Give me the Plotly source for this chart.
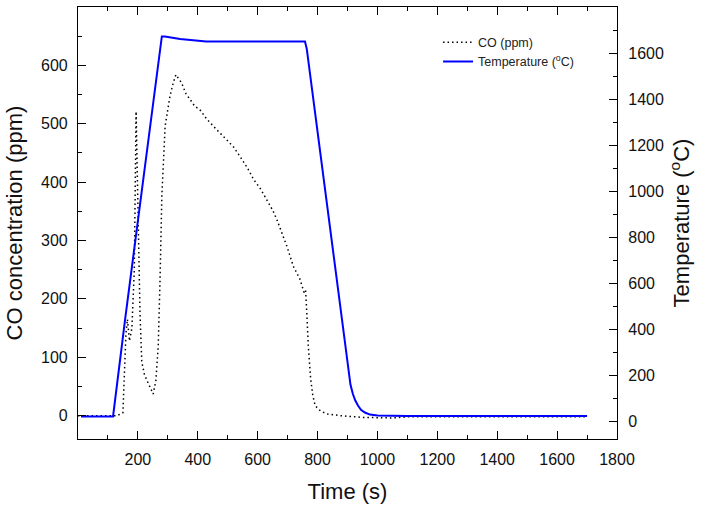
import plotly.graph_objects as go

# ---- data ----
t_temp = [10, 117, 157, 196, 240, 280, 290, 341, 428, 758, 764, 831, 875, 897,
          903, 910, 918, 926, 935, 945, 958, 975, 1000, 1100, 1300, 1500, 1700]
temp = [23, 23, 441, 831, 1265, 1672, 1672, 1661, 1650, 1650, 1618, 938, 491, 268,
        215, 160, 120, 92, 70, 52, 40, 31, 27, 25, 25, 25, 25]

t_co = [0, 50, 100, 130, 150, 155, 160, 165, 172, 180, 188, 194, 197, 201, 207, 213,
        222, 235, 251, 260, 268, 274, 280, 291, 307, 318, 327, 335, 346, 360, 374, 390,
        407, 430, 463, 496, 520, 541, 565, 586, 610, 630, 650, 664, 680, 697, 719, 741,
        755, 760, 764, 769, 777, 784, 792, 810, 831, 875, 950, 1000, 1050, 1100, 1200,
        1300, 1400, 1500, 1600, 1700]
co = [0, 0, 0, 0, 5, 60, 140, 165, 128, 150, 250, 521, 430, 319, 177, 92,
      70, 55, 37, 60, 120, 234, 376, 496, 547, 570, 584, 578, 570, 552, 541, 530,
      524, 508, 490, 473, 460, 444, 425, 405, 388, 370, 352, 336, 315, 291, 256, 234,
      211, 215, 177, 120, 63, 35, 17, 8, 3, 0, -3, -3, -4, -2, -2,
      -3, -2, -3, -2, -2]

x_ticks = [200, 400, 600, 800, 1000, 1200, 1400, 1600, 1800]
y_ticks = [0, 100, 200, 300, 400, 500, 600]
y2_ticks = [0, 200, 400, 600, 800, 1000, 1200, 1400, 1600]

FONT = "Liberation Sans, Arial, sans-serif"

fig = go.Figure()
fig.add_trace(go.Scatter(
    x=t_co, y=co, name="CO (ppm)", mode="lines",
    line=dict(color="black", width=1.5, dash="1.5px,3px"),
    yaxis="y"))
fig.add_trace(go.Scatter(
    x=t_temp, y=temp, name="Temperature (<sup>o</sup>C)", mode="lines",
    line=dict(color="#0000FF", width=2),
    yaxis="y2"))

axis_common = dict(
    showline=True, linecolor="black", linewidth=1.2,
    ticks="inside", ticklen=8, tickwidth=1.2, tickcolor="black",
    showgrid=False, zeroline=False,
    tickfont=dict(family=FONT, size=16, color="#111"),
)
TITLE_FONT = dict(family=FONT, size=22, color="#111")

fig.update_layout(
    width=703, height=509,
    margin=dict(l=78, r=86, t=7, b=70),
    paper_bgcolor="white", plot_bgcolor="white",
    showlegend=True,
    legend=dict(x=0.668, y=0.952, xanchor="left", yanchor="top",
                bgcolor="rgba(0,0,0,0)",
                font=dict(family=FONT, size=12.5, color="#222"),
                tracegroupgap=0, itemwidth=30),
    xaxis=dict(
        range=[0, 1800], tickmode="array", tickvals=x_ticks,
        mirror="ticks",
        minor=dict(ticks="inside", ticklen=4, tick0=0, dtick=100, tickcolor="black"),
        ticklabelstandoff=6,
        title=dict(text="Time (s)", font=TITLE_FONT, standoff=16),
        **axis_common),
    yaxis=dict(
        range=[-40, 700], tickmode="array", tickvals=y_ticks,
        minor=dict(ticks="inside", ticklen=4, tick0=0, dtick=50, tickcolor="black"),
        ticklabelstandoff=6,
        title=dict(text="CO concentration (ppm)", font=TITLE_FONT, standoff=12),
        **axis_common),
    yaxis2=dict(
        range=[-75, 1800], tickmode="array", tickvals=y2_ticks,
        overlaying="y", side="right",
        minor=dict(ticks="inside", ticklen=4, tick0=0, dtick=100, tickcolor="black"),
        ticklabelstandoff=7,
        title=dict(text="Temperature (<sup>o</sup>C)", font=TITLE_FONT, standoff=10),
        **axis_common),
)

fig.write_html("out.html")
